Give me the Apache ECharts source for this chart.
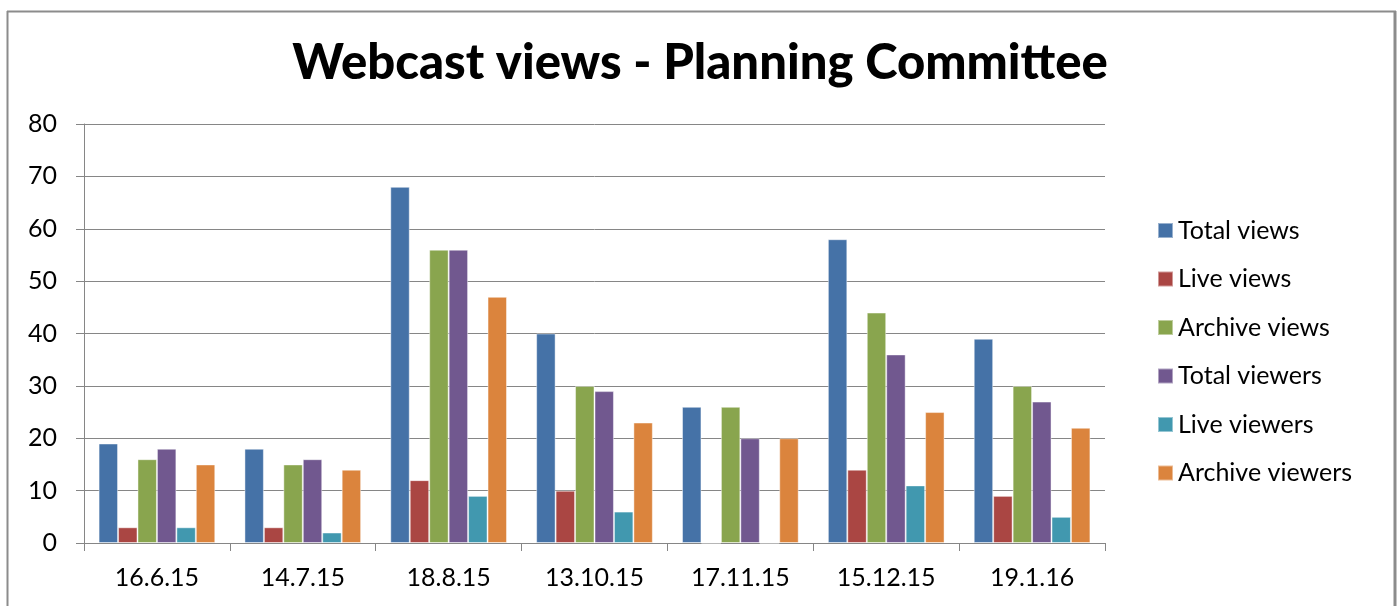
<!DOCTYPE html>
<html>
<head>
<meta charset="utf-8">
<script src="https://cdn.jsdelivr.net/npm/echarts@6/dist/echarts.min.js"></script>
<style>
html,body{margin:0;padding:0;background:#fff;}
#chart{width:1400px;height:606px;}
</style>
</head>
<body>
<div id="chart"></div>
<script>
const categories = ['16.6.15','14.7.15','18.8.15','13.10.15','17.11.15','15.12.15','19.1.16'];
const totalViews    = [19, 18, 68, 40, 26, 58, 39];
const liveViews     = [3, 3, 12, 10, 0, 14, 9];
const archiveViews  = [16, 15, 56, 30, 26, 44, 30];
const totalViewers  = [18, 16, 56, 29, 20, 36, 27];
const liveViewers   = [3, 2, 9, 6, 0, 11, 5];
const archiveViewers= [15, 14, 47, 23, 20, 25, 22];
const seriesNames = ['Total views','Live views','Archive views','Total viewers','Live viewers','Archive viewers'];
const seriesData = [totalViews, liveViews, archiveViews, totalViewers, liveViewers, archiveViewers];
const colors = ['#4572A7','#AA4643','#89A54E','#71588F','#4198AF','#DB843D'];

const FONT = 'Lato, "Open Sans", sans-serif';
const chart = echarts.init(document.getElementById('chart'), null, {renderer:'canvas'});
chart.setOption({
  animation: false,
  color: colors,
  title: {
    text: 'Webcast views - Planning Committee',
    left: 'center',
    top: 34,
    textStyle: {fontFamily: FONT, fontWeight: 900, fontSize: 49, color: '#000'}
  },
  legend: {
    orient: 'vertical',
    left: 1152,
    top: 213,
    itemWidth: 15,
    itemHeight: 15,
    itemGap: 23.5,
    icon: 'rect',
    textStyle: {fontFamily: FONT, fontSize: 25, color: '#000', lineHeight: 22.5, padding:[0,0,0,0]},
    data: seriesNames
  },
  grid: {left: 84, right: 295, top: 124, bottom: 63, containLabel: false},
  xAxis: {
    type: 'category',
    data: categories,
    axisLine: {show: true, lineStyle: {color: '#868686', width: 1}},
    axisTick: {show: true, length: 8, lineStyle: {color: '#868686'}},
    axisLabel: {fontFamily: FONT, fontSize: 25, color: '#000', margin: 22}
  },
  yAxis: {
    type: 'value',
    min: 0, max: 80, interval: 10,
    axisLine: {show: true, lineStyle: {color: '#868686', width: 1}},
    axisTick: {show: true, length: 8, lineStyle: {color: '#868686'}},
    splitLine: {show: true, lineStyle: {color: '#868686', width: 1}},
    axisLabel: {fontFamily: FONT, fontSize: 25, color: '#000', margin: 27}
  },
  series: seriesNames.map((n, i) => ({
    name: n,
    type: 'bar',
    data: seriesData[i],
    barGap: '0%',
    barCategoryGap: '20%',
    itemStyle: {color: colors[i], borderColor: 'rgba(255,255,255,0.45)', borderWidth: 1}
  })),
  graphic: [
    {type:'line', shape:{x1:7.5,y1:11,x2:7.5,y2:606}, style:{stroke:'#8c8c8c', lineWidth:2}, silent:true},
    {type:'line', shape:{x1:7,y1:11.5,x2:1396,y2:11.5}, style:{stroke:'#8c8c8c', lineWidth:2}, silent:true},
    {type:'line', shape:{x1:1395,y1:11,x2:1395,y2:606}, style:{stroke:'#8c8c8c', lineWidth:3}, silent:true}
  ]
});
</script>
</body>
</html>
